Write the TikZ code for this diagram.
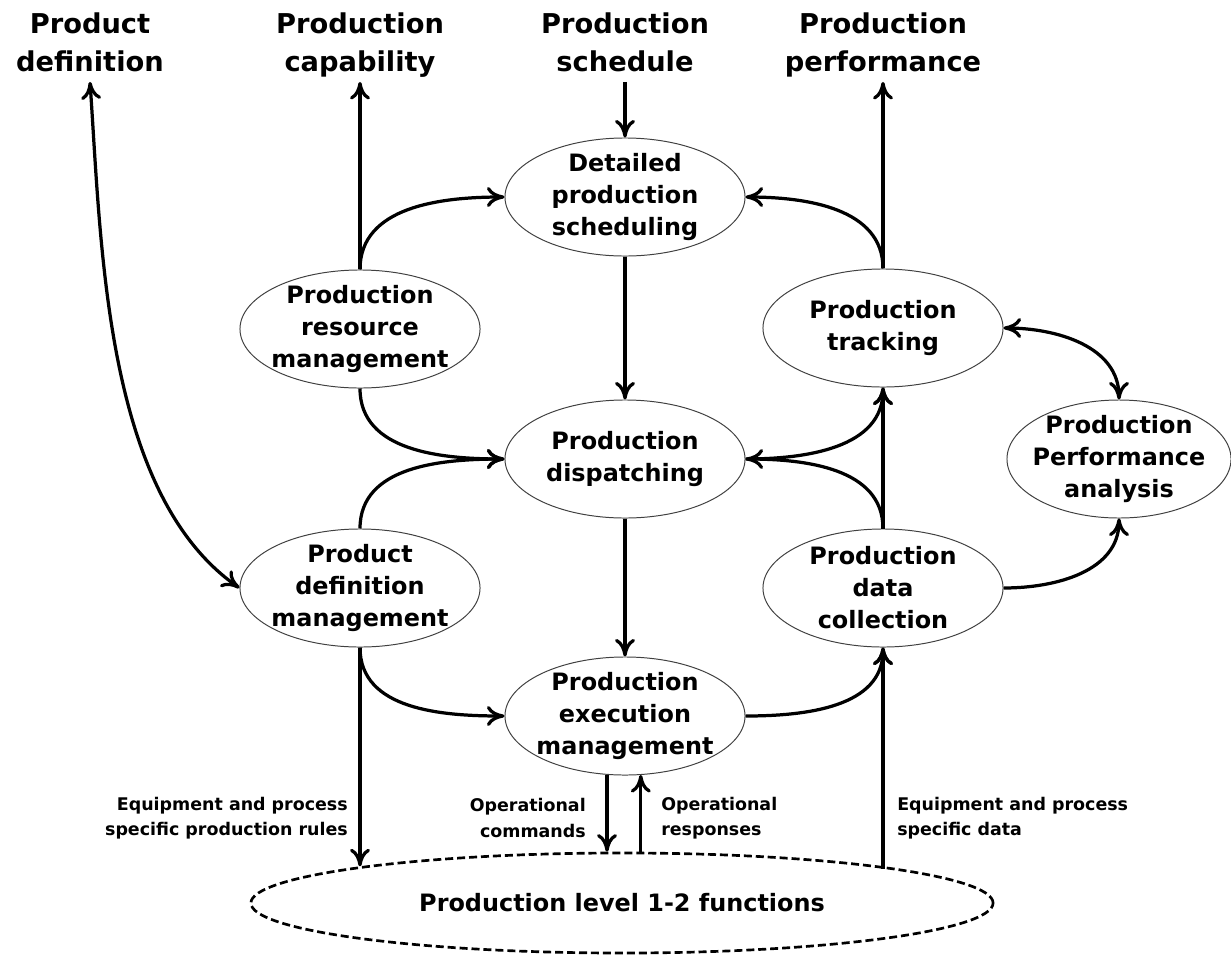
\documentclass[tikz,border=0pt]{standalone}
\usepackage{fontspec}
\setmainfont{DejaVu Sans}
\usepackage{tikz}
\usetikzlibrary{shapes,arrows,positioning,calc,arrows.meta}
\tikzstyle{arrow} = [-{Computer Modern Rightarrow[length=4.4mm,width=5mm]}, line width=2.3pt]
\tikzstyle{dblarrow} = [{Computer Modern Rightarrow[length=4.4mm,width=5mm]}-{Computer Modern Rightarrow[length=4.4mm,width=5mm]}, line width=2.3pt]
\tikzstyle{func} = [ellipse, draw=black!75, line width=0.7pt, inner xsep=-2.5cm, inner ysep=-1.5cm, minimum width=6cm, minimum height=2.95cm, align=center, font=\fontsize{17}{22.8}\selectfont\bfseries]
\tikzstyle{info} = [align=center, anchor=north, inner sep=2pt, text depth=5pt, font=\fontsize{19.4}{27}\selectfont\bfseries]
\tikzstyle{note} = [inner sep=0pt, font=\fontsize{12.4}{17.8}\selectfont\bfseries]

\begin{document}
\begin{tikzpicture}[x=0.025cm, y=-0.025cm]
    \useasboundingbox (0,0) rectangle (1231,955);
    % Information to and from level 4
    \node[info] (pdef) at (90,10) {Product\\definition};
    \node[info] (pcap) at (360,10) {Production\\capability};
    \node[info] (psch) at (625,10) {Production\\schedule};
    \node[info] (pperf) at (883,10) {Production\\performance};

    % Functions
    \node[func] (dps) at (625,197) {Detailed\\production\\scheduling};
    \node[func] (prm) at (360,329) {Production\\resource\\management};
    \node[func] (pd) at (625,459) {Production\\dispatching};
    \node[func] (pt) at (883,328) {Production\\tracking};
    \node[func, minimum width=5.6cm] (ppa) at (1119,459) {Production\\Performance\\analysis};
    \node[func] (pdm) at (360,588) {Product\\definition\\management};
    \node[func] (pdc) at (883,588) {Production\\data\\collection};
    \node[func] (pem) at (625,716) {Production\\execution\\management};
    \node[func, draw=black, dash pattern=on 5.7pt off 2.8pt, line width=1.9pt, minimum width=18.55cm, minimum height=2.5cm, font=\fontsize{17}{21}\selectfont\bfseries] (plf) at (622,903) {Production level 1-2 functions};

    % Flows
    \draw[dblarrow] (pdef.south) to[out=-86, in=145, looseness=0.8] (pdm.west);
    \draw[arrow] (prm.north) -- (pcap.south);
    \draw[arrow] (prm.north) to[out=90, in=180] (dps.west);
    \draw[arrow] (prm.south) to[out=-90, in=180] (pd.west);
    \draw[arrow] (pdm.north) to[out=90, in=180] (pd.west);
    \draw[arrow] (pdm.south) to[out=-90, in=180] (pem.west);
    \draw[arrow] (psch) -- (dps);
    \draw[arrow] (dps) -- (pd);
    \draw[arrow] (pd) -- (pem);
    \draw[arrow] (pt.north) -- (pperf.south);
    \draw[arrow] (pt.north) to[out=90, in=0] (dps.east);
    \draw[arrow] (pdc.north) -- (pt.south);
    \draw[arrow] (pdc.north) to[out=90, in=0] (pd.east);
    \draw[arrow] (pd.east) to[out=0, in=-90] (pt.south);
    \draw[dblarrow] (pt.east) to[out=0, in=90] (ppa.north);
    \draw[arrow] (pdc.east) to[out=0, in=-90] (ppa.south);
    \draw[arrow] (pem.east) to[out=0, in=-90] (pdc.south);

    % Level 1-2 exchanges
    \draw[arrow] (pdm.south) -- (pdm.south |- plf.172.3);
    \draw[arrow] (pdc.south |- plf.7.7) -- (pdc.south);
    \draw[arrow] (pem.-107.2) -- (pem.-107.2 |- plf.north);
    \draw[arrow] (pem.-75.6 |- plf.north) -- (pem.-75.6);
    \node[note, align=right, anchor=east] (rules) at (348,818) {Equipment and process\\specific production rules};
    \node[note, align=right, anchor=east] (cmds) at (586,818) {Operational\\commands};
    \node[note, align=left, anchor=west] (resp) at (661,818) {Operational\\responses};
    \node[note, align=left, anchor=west] (data) at (897,818) {Equipment and process\\specific data};
\end{tikzpicture}
\end{document}
